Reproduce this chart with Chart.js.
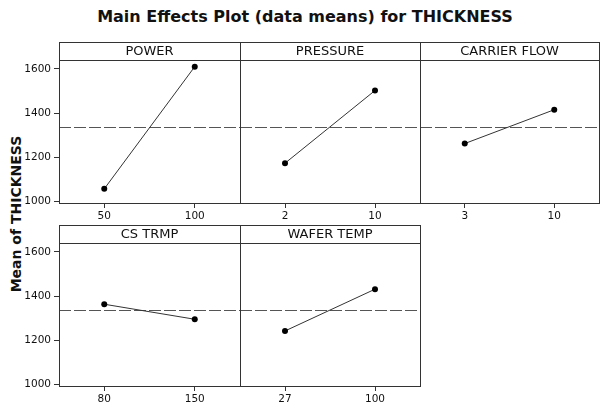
<!DOCTYPE html>
<html>
<head>
<meta charset="utf-8">
<script src="https://cdn.jsdelivr.net/npm/chart.js@4.4.1/dist/chart.umd.min.js"></script>
<style>
  body { margin: 0; background: #fff; width: 600px; height: 408px; position: relative; overflow: hidden; font-family: "DejaVu Sans", sans-serif; }
  #title { position: absolute; left: 0; top: 7px; width: 610px; text-align: center; font-weight: bold; font-size: 16px; color: #111; }
  #ylabel { position: absolute; left: 16px; top: 214px; transform: translate(-50%, -50%) rotate(-90deg); font-weight: bold; font-size: 14px; color: #111; white-space: nowrap; }
  canvas { position: absolute; }
</style>
</head>
<body>
<div id="title">Main Effects Plot (data means) for THICKNESS</div>
<div id="ylabel">Mean of THICKNESS</div>
<script>
// factor names and levels
const factors = ['POWER', 'PRESSURE', 'CARRIER FLOW', 'CS TRMP', 'WAFER TEMP'];
const powerLevels = ['50', '100'];
const pressureLevels = ['2', '10'];
const carrierLevels = ['3', '10'];
const csTrmpLevels = ['80', '150'];
const waferLevels = ['27', '100'];

// mean of THICKNESS at each level
const powerMeans = [1057, 1610];
const pressureMeans = [1173, 1502];
const carrierMeans = [1262, 1415];
const csTrmpMeans = [1363, 1295];
const waferMeans = [1242, 1431];

const grandMean = 1335;
const yTicks = [1000, 1200, 1400, 1600];
const yMin = 993, yMax = 1640;

const levels = [powerLevels, pressureLevels, carrierLevels, csTrmpLevels, waferLevels];
const means = [powerMeans, pressureMeans, carrierMeans, csTrmpMeans, waferMeans];

// panel plot areas (page pixels)
const cols = [[59, 240], [240, 420], [420, 599]];
const rows = [[60, 203], [243, 386]];
const HEADER = 18, XAXIS = 22, YAXIS = 59;

const panelFrame = {
  id: 'panelFrame',
  beforeDatasetsDraw(chart, args, opts) {
    const ca = chart.chartArea, ctx = chart.ctx;
    const y = Math.round(chart.scales.y.getPixelForValue(grandMean)) + 0.5;
    ctx.save();
    ctx.strokeStyle = '#555';
    ctx.lineWidth = 1;
    ctx.setLineDash([12, 3]);
    ctx.beginPath();
    ctx.moveTo(ca.left, y);
    ctx.lineTo(ca.right, y);
    ctx.stroke();
    ctx.restore();
  },
  afterDraw(chart, args, opts) {
    const ca = chart.chartArea, ctx = chart.ctx;
    const l = Math.round(ca.left) + 0.5, r = Math.round(ca.right) + 0.5;
    const t = Math.round(ca.top) + 0.5, b = Math.round(ca.bottom) + 0.5;
    ctx.save();
    ctx.strokeStyle = '#333';
    ctx.lineWidth = 1;
    ctx.strokeRect(l, t, r - l, b - t);
    ctx.strokeRect(l, t - HEADER, r - l, HEADER);
    ctx.fillStyle = '#111';
    ctx.font = '13px "DejaVu Sans"';
    ctx.textAlign = 'center';
    ctx.textBaseline = 'middle';
    ctx.fillText(opts.label, (ca.left + ca.right) / 2, ca.top - HEADER / 2 + 1);
    ctx.restore();
  }
};

factors.forEach((name, i) => {
  const row = i < 3 ? 0 : 1;
  const col = i < 3 ? i : i - 3;
  const [pl, pr] = cols[col];
  const [pt, pb] = rows[row];
  const first = col === 0;
  const left = first ? pl - YAXIS : pl - 1;
  let width = (pr - left) + 2;
  let height = HEADER + (pb - pt) + XAXIS;

  const cv = document.createElement('canvas');
  cv.width = width; cv.height = height;
  cv.style.width = width + 'px';
  cv.style.height = height + 'px';
  document.body.appendChild(cv);

  const chart = new Chart(cv.getContext('2d'), {
    type: 'line',
    data: {
      labels: levels[i],
      datasets: [{
        data: means[i],
        borderColor: '#333',
        borderWidth: 1,
        pointRadius: 3,
        pointBackgroundColor: '#000',
        pointBorderColor: '#000',
        pointBorderWidth: 0,
        tension: 0
      }]
    },
    options: {
      responsive: false,
      animation: false,
      layout: { autoPadding: false, padding: { top: HEADER, left: first ? 0 : 1, right: 2, bottom: 0 } },
      scales: {
        x: {
          type: 'category',
          offset: true,
          grid: { drawOnChartArea: false, tickLength: 5, color: '#333' },
          border: { display: false },
          ticks: { color: '#111', font: { family: 'DejaVu Sans', size: 10.5 }, padding: 2, maxRotation: 0 },
          afterFit: s => { s.height = XAXIS; }
        },
        y: {
          display: first,
          min: yMin,
          max: yMax,
          grid: { drawOnChartArea: false, tickLength: 5, color: '#333' },
          border: { display: false },
          ticks: { color: '#111', font: { family: 'DejaVu Sans', size: 10.5 }, padding: 3, callback: v => String(v) },
          afterBuildTicks: s => { s.ticks = yTicks.map(v => ({ value: v })); },
          afterFit: s => { s.width = first ? YAXIS : 0; }
        }
      },
      plugins: {
        legend: { display: false },
        tooltip: { enabled: false },
        panelFrame: { label: name }
      }
    },
    plugins: [panelFrame]
  });

  // make the plot area land exactly on the panel rectangle
  let ca = chart.chartArea;
  width += (pr - pl) - Math.round(ca.right - ca.left);
  height += (pb - pt) - Math.round(ca.bottom - ca.top);
  cv.style.width = width + 'px';
  cv.style.height = height + 'px';
  chart.resize(width, height);
  ca = chart.chartArea;
  cv.style.left = (pl - Math.round(ca.left)) + 'px';
  cv.style.top = (pt - Math.round(ca.top)) + 'px';
});
</script>
</body>
</html>
